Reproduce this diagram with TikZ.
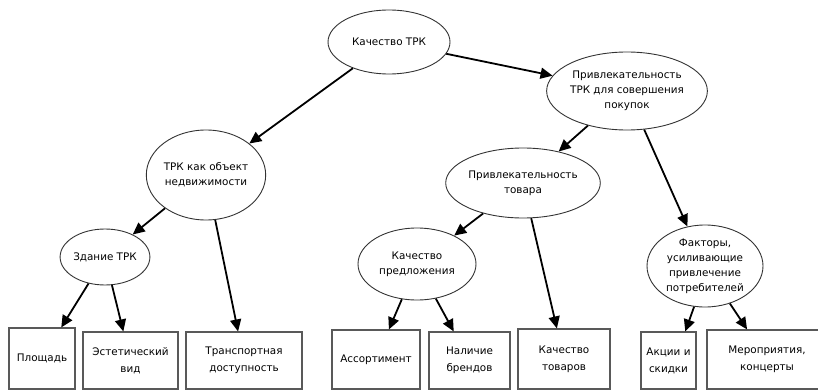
\documentclass[tikz,border=0pt]{standalone}
\usepackage{fontspec}
\setmainfont{DejaVu Sans}
\usetikzlibrary{arrows.meta}
\usetikzlibrary{shapes.geometric}
\tikzset{
oval/.style={ellipse, draw=black!80, line width=0.9pt, inner sep=0pt, align=center, font=\fontsize{10.4}{15}\selectfont},
cell/.style={rectangle, draw=black!65, line width=1.1pt, inner sep=0pt, align=center, font=\fontsize{10.4}{17}\selectfont},
link/.style={line width=1.8pt, -{Triangle[length=12pt,width=11pt]}},
}

\begin{document}
\begin{tikzpicture}[x=1pt,y=-1pt]
    \useasboundingbox (0,0) rectangle (818,390);
    \clip (0,0) rectangle (818,390);
    % ellipses
    \node[oval, minimum width=122, minimum height=64] (kach) at (389,42) {Качество ТРК};
    \node[oval, minimum width=144, minimum height=78] (privl) at (627,91) {Привлекательность\\ТРК для совершения\\покупок};
    \node[oval, minimum width=116, minimum height=90] (obj) at (206,175) {ТРК как объект\\недвижимости};
    \node[oval, minimum width=136, minimum height=70] (tovar) at (523,183) {Привлекательность\\товара};
    \node[oval, minimum width=84, minimum height=56] (zdan) at (105,257) {Здание ТРК};
    \node[oval, minimum width=118, minimum height=72] (predl) at (417,264) {Качество\\предложения};
    \node[oval, minimum width=116, minimum height=82] (faktor) at (705,266) {Факторы,\\усиливающие\\привлечение\\потребителей};
    % boxes
    \node[cell, minimum width=66, minimum height=61] (plosh) at (42,358.5) {Площадь};
    \node[cell, minimum width=95, minimum height=57] (estet) at (130.5,360.5) {Эстетический\\вид};
    \node[cell, minimum width=116, minimum height=57] (transp) at (244,360.5) {Транспортная\\доступность};
    \node[cell, minimum width=88, minimum height=59] (assort) at (376,359.5) {Ассортимент};
    \node[cell, minimum width=81, minimum height=57] (brend) at (469.5,360.5) {Наличие\\брендов};
    \node[cell, minimum width=92, minimum height=60] (kachtov) at (564,359) {Качество\\товаров};
    \node[cell, minimum width=55, minimum height=57] (akcii) at (668.5,360.5) {Акции и\\скидки};
    \node[cell, minimum width=120, minimum height=59] (merop) at (767,359.5) {Мероприятия,\\концерты};
    % arrows
    \draw[link] (kach) -- (obj);
    \draw[link] (kach) -- (privl);
    \draw[link] (privl) -- (tovar);
    \draw[link] (privl) -- (faktor);
    \draw[link] (obj) -- (zdan);
    \draw[link] (obj) -- (transp);
    \draw[link] (zdan) -- (plosh);
    \draw[link] (zdan) -- (estet);
    \draw[link] (tovar) -- (predl);
    \draw[link] (tovar) -- (kachtov);
    \draw[link] (predl) -- (assort);
    \draw[link] (predl) -- (brend);
    \draw[link] (faktor.255) -- (akcii.60);
    \draw[link] (faktor) -- (merop);
\end{tikzpicture}
\end{document}
